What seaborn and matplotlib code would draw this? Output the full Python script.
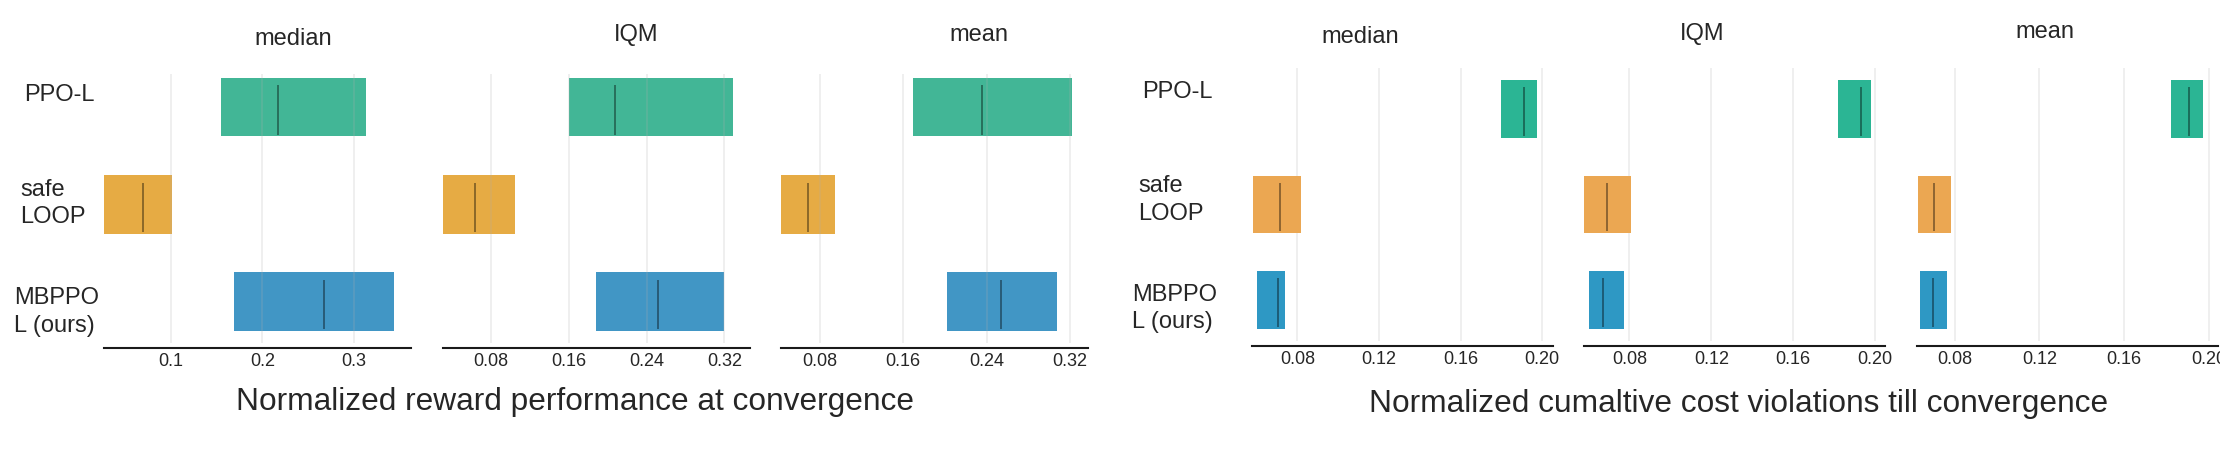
import matplotlib
matplotlib.use("Agg")
import matplotlib.pyplot as plt
import seaborn as sns

# algorithms, top to bottom
algorithms = ["PPO-L", "safe\nLOOP", "MBPPO\nL (ours)"]
metrics = ["median", "IQM", "mean"]

# normalized reward at convergence: confidence interval [low, high] and point estimate
reward_median_ci = [[0.1546, 0.3133], [0.0267, 0.1015], [0.1694, 0.3444]]
reward_median_pt = [0.2166, 0.0696, 0.2676]
reward_iqm_ci = [[0.1600, 0.3293], [0.0306, 0.1049], [0.1882, 0.3191]]
reward_iqm_pt = [0.2073, 0.0640, 0.2519]
reward_mean_ci = [[0.1692, 0.3221], [0.0429, 0.0950], [0.2017, 0.3075]]
reward_mean_pt = [0.2354, 0.0692, 0.2542]

# normalized cumulative cost violations till convergence
cost_median_ci = [[0.1800, 0.1977], [0.0580, 0.0818], [0.0603, 0.0738]]
cost_median_pt = [0.1911, 0.0714, 0.0705]
cost_iqm_ci = [[0.1817, 0.1978], [0.0580, 0.0810], [0.0603, 0.0772]]
cost_iqm_pt = [0.1932, 0.0692, 0.0673]
cost_mean_ci = [[0.1824, 0.1973], [0.0624, 0.0783], [0.0634, 0.0764]]
cost_mean_pt = [0.1905, 0.0704, 0.0697]

reward_ticks = [[0.1, 0.2, 0.3], [0.08, 0.16, 0.24, 0.32], [0.08, 0.16, 0.24, 0.32]]
reward_ticklabels = [["0.1", "0.2", "0.3"], ["0.08", "0.16", "0.24", "0.32"],
                     ["0.08", "0.16", "0.24", "0.32"]]
cost_ticks = [0.08, 0.12, 0.16, 0.20]
cost_ticklabels = ["0.08", "0.12", "0.16", "0.20"]

reward_xlims = [(0.027, 0.3624), (0.0306, 0.3458), (0.0429, 0.3372)]
cost_xlims = [(0.0576, 0.2052), (0.058, 0.205), (0.062, 0.2043)]

reward_xlabel = "Normalized reward performance at convergence"
cost_xlabel = "Normalized cumaltive cost violations till convergence"

sns.set_style("white")
plt.rcParams["font.family"] = ["Liberation Sans", "DejaVu Sans"]
plt.rcParams["xtick.labelsize"] = 13
plt.rcParams["xtick.color"] = "#262626"

W, H = 2220, 455
fig = plt.figure(figsize=(W / 100, H / 100), dpi=100)


def px_rect(x0, x1, y0, y1):
    return [x0 / W, 1 - y1 / H, (x1 - x0) / W, (y1 - y0) / H]


def ftext(x, y, s, **kw):
    fig.text(x / W, 1 - y / H, s, **kw)


pal_left = sns.color_palette("colorblind")
colors_left = [pal_left[2], pal_left[1], pal_left[0]]
colors_right = ["#2bb594", "#eba752", "#2e98c4"]

bar_h = 0.6


def interval_panel(ax, cis, pts, colors, alpha, ticks, labels, xlim, ylim, grid_on_top):
    for i, ((lo, hi), pt) in enumerate(zip(cis, pts)):
        ax.barh(y=i, width=hi - lo, left=lo, height=bar_h, color=colors[i],
                alpha=alpha, linewidth=0)
        ax.vlines(x=pt, ymin=i - 6 * bar_h / 16, ymax=i + 7.5 * bar_h / 16,
                  color="k", alpha=0.5, linewidth=1.1)
    ax.set_xlim(*xlim)
    ax.set_ylim(*ylim)
    ax.set_xticks(ticks)
    ax.set_xticklabels(labels)
    for t in ax.get_xticklabels():
        t.set_family("DejaVu Sans")
    ax.set_yticks([])
    ax.tick_params(axis="x", length=0, pad=3.5, labelsize=13)
    ax.grid(True, axis="x", color="#b0b0b0", alpha=0.25, linewidth=1.1)
    ax.grid(False, axis="y")
    ax.set_axisbelow(not grid_on_top)
    for side in ["left", "right", "top"]:
        ax.spines[side].set_visible(False)
    ax.spines["bottom"].set_linewidth(1.5)
    ax.spines["bottom"].set_color("#1a1a1a")
    ax.spines["bottom"].set_position(("outward", 3.7))
    ax.set_facecolor("none")


# reward group (left)
left_x = [(104.3, 410.7), (442.7, 749.5), (781.0, 1088.0)]
reward_cis = [reward_median_ci, reward_iqm_ci, reward_mean_ci]
reward_pts = [reward_median_pt, reward_iqm_pt, reward_mean_pt]
for k in range(3):
    ax = fig.add_axes(px_rect(left_x[k][0], left_x[k][1], 74.0, 343.3))
    interval_panel(ax, reward_cis[k], reward_pts[k], colors_left, 0.75,
                   reward_ticks[k], reward_ticklabels[k], reward_xlims[k],
                   (2.428, -0.341), True)

# cost group (right)
right_x = [(1251.7, 1552.7), (1584.3, 1885.3), (1916.7, 2217.7)]
cost_cis = [cost_median_ci, cost_iqm_ci, cost_mean_ci]
cost_pts = [cost_median_pt, cost_iqm_pt, cost_mean_pt]
for k in range(3):
    ax = fig.add_axes(px_rect(right_x[k][0], right_x[k][1], 68.3, 341.0))
    interval_panel(ax, cost_cis[k], cost_pts[k], colors_right, 1.0,
                   cost_ticks, cost_ticklabels, cost_xlims[k],
                   (2.43, -0.425), False)

# metric titles
title_kw = dict(ha="center", va="baseline", fontsize=17)
for (x, y), name in zip([(293, 45), (636, 41.5), (979, 40.7)], metrics):
    ftext(x, y, name, **title_kw)
for (x, y), name in zip([(1360, 43.3), (1702.6, 40), (2045, 38.3)], metrics):
    ftext(x, y, name, **title_kw)

# row labels (y is the baseline of the last line)
label_kw = dict(ha="left", va="baseline", fontsize=17, linespacing=1.34)
for (x, y), name in zip([(24.3, 100.7), (20.4, 223.3), (14.3, 332)], algorithms):
    ftext(x, y, name, **label_kw)
for (x, y), name in zip([(1142.1, 98.3), (1138.2, 220), (1132.1, 328.3)], algorithms):
    ftext(x, y, name, **label_kw)

# group captions
ftext(574.7, 410, reward_xlabel, ha="center", va="baseline", fontsize=22.8)
ftext(1738.6, 411.7, cost_xlabel, ha="center", va="baseline", fontsize=22.8)

fig.savefig("out.png", dpi=100)
